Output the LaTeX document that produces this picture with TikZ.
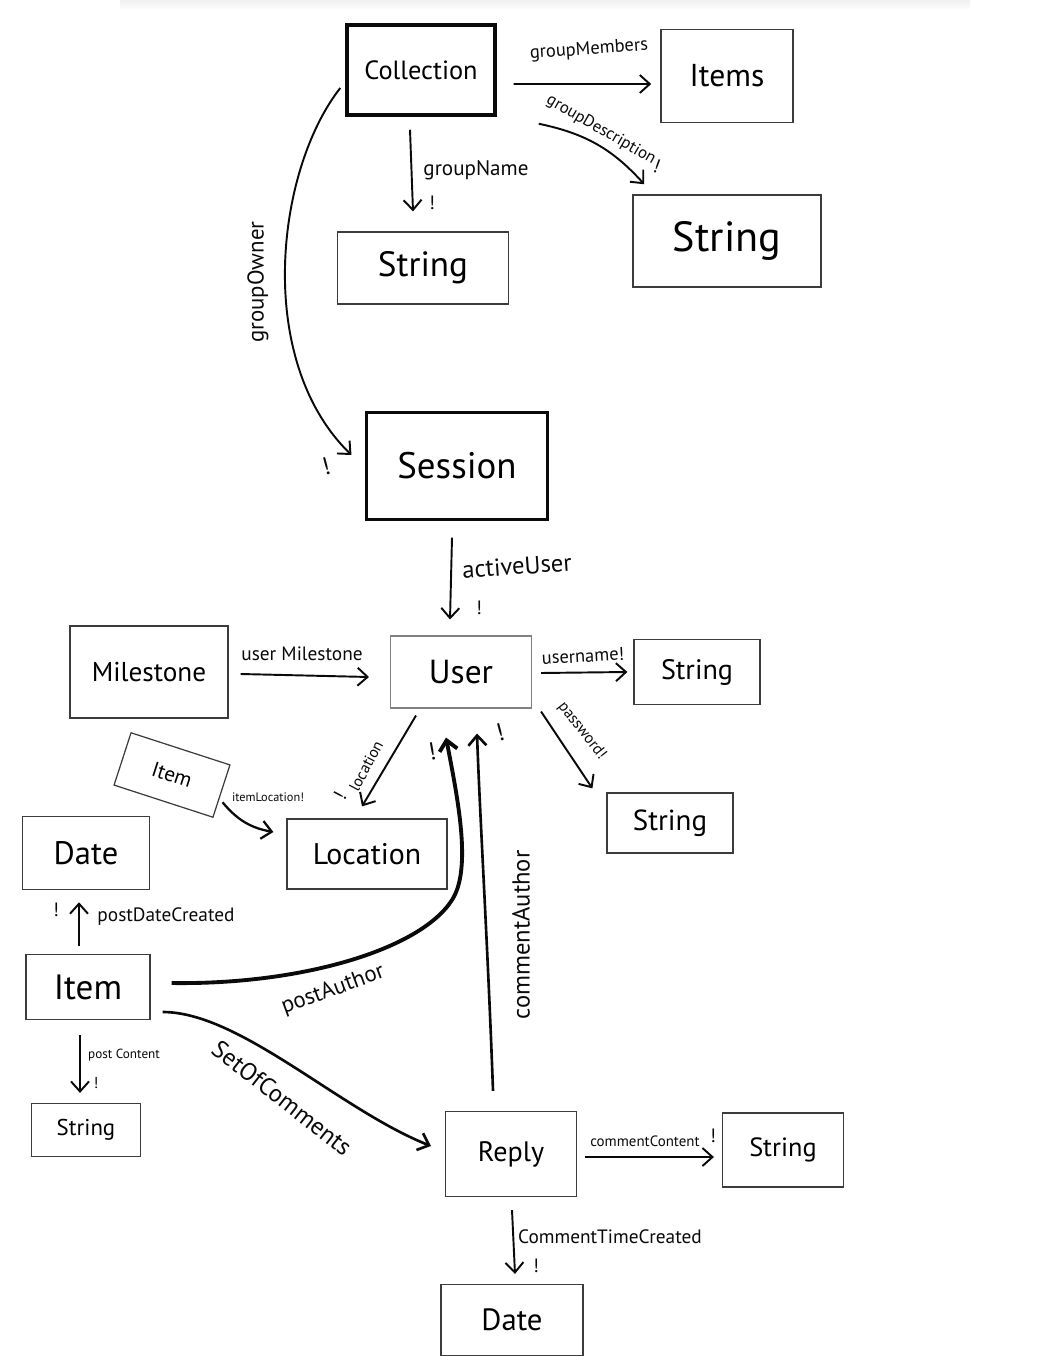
\documentclass[tikz,border=0pt]{standalone}
\usepackage{fontspec}
\setmainfont{PT Sans}
\usepackage{tikz}
\usetikzlibrary{arrows.meta}
\definecolor{penblack}{RGB}{10,10,10}
\definecolor{boxgray}{RGB}{60,60,60}
\newcommand{\fsz}[1]{\fontsize{#1}{#1}\selectfont}

\begin{document}
\begin{tikzpicture}[x=0.02cm, y=-0.02cm,
        box/.style={draw=boxgray, line width=0.7pt, inner sep=0pt, align=center},
        arr/.style={-{Straight Barb[length=2mm,width=3.6mm]}, line width=1.1pt, penblack},
        lbl/.style={inner sep=0pt, text=penblack},
        bang/.style={inner sep=0pt, text=penblack, font=\fsz{11}}]
        \useasboundingbox (0,0) rectangle (1057,1371);
        \shade[top color=black!6, bottom color=white, draw=none] (120,0) rectangle (970,10);

        % schema boxes
        \node[box, draw=penblack, line width=2pt, minimum width=2.96cm, minimum height=1.8cm,
              font=\fsz{15}] (coll) at (421,70) {Collection};
        \node[box, line width=0.9pt, minimum width=2.64cm, minimum height=1.86cm,
              font=\fsz{18}] (items) at (727,76) {Items};
        \node[box, minimum width=3.42cm, minimum height=1.44cm, font=\fsz{20}]
              (strname) at (423,268) {String};
        \node[box, line width=0.9pt, minimum width=3.76cm, minimum height=1.84cm,
              font=\fsz{24}] (strdesc) at (727,241) {String};
        \node[box, draw=penblack, line width=1.2pt, minimum width=3.62cm, minimum height=2.14cm,
              font=\fsz{21}] (session) at (457,466) {Session};
        \node[box, minimum width=3.16cm, minimum height=1.84cm, font=\fsz{15.5}]
              (milestone) at (149,672) {Milestone};
        \node[box, draw=gray, line width=0.6pt, minimum width=2.82cm, minimum height=1.44cm,
              font=\fsz{19}] (user) at (461,672) {User};
        \node[box, minimum width=2.52cm, minimum height=1.3cm, font=\fsz{16}]
              (struser) at (697,672) {String};
        \node[box, minimum width=2.52cm, minimum height=1.2cm, font=\fsz{16.5}]
              (strpass) at (670,823) {String};
        \node[box, minimum width=2.08cm, minimum height=1.1cm, rotate=-18, font=\fsz{12}]
              (itemloc) at (172,775) {Item};
        \node[box, line width=0.9pt, minimum width=2.54cm, minimum height=1.46cm,
              font=\fsz{18.5}] (datepost) at (86,853) {Date};
        \node[box, minimum width=3.2cm, minimum height=1.4cm, font=\fsz{17}]
              (location) at (367,854) {Location};
        \node[box, minimum width=2.48cm, minimum height=1.3cm, font=\fsz{20}]
              (item) at (88,987) {Item};
        \node[box, minimum width=2.18cm, minimum height=1.06cm, font=\fsz{13}]
              (strcontent) at (86,1130) {String};
        \node[box, minimum width=2.62cm, minimum height=1.7cm, font=\fsz{16}]
              (reply) at (511,1154) {Reply};
        \node[box, minimum width=2.42cm, minimum height=1.48cm, font=\fsz{15}]
              (strcomment) at (783,1150) {String};
        \node[box, minimum width=2.84cm, minimum height=1.42cm, font=\fsz{17.5}]
              (datecomment) at (512,1320) {Date};

        % Collection
        \draw[arr] ([xshift=0.34cm,yshift=-0.28cm]coll.east)
            -- ([xshift=-0.18cm,yshift=-0.16cm]items.west);
        \node[lbl, font=\fsz{10.5}, rotate=4] (lmembers) at (589,50) {groupMembers};
        \draw[arr] ([xshift=-0.22cm,yshift=-0.26cm]coll.south)
            -- ([xshift=-0.2cm,yshift=0.4cm]strname.north);
        \node[lbl, font=\fsz{12}] (lname) at (476,170) {groupName};
        \node[bang] (bname) at (432,203) {!};
        \draw[arr] ([xshift=0.84cm,yshift=-0.14cm]coll.south east)
            to[bend left=18] ([xshift=0.24cm,yshift=0.2cm]strdesc.north west);
        \node[lbl, font=\fsz{9.5}, rotate=-30] (ldesc) at (601,130) {groupDescription};
        \node[bang, rotate=-20] (bdesc) at (657,166) {!};
        \draw[arr] ([xshift=-0.1cm,yshift=-0.36cm]coll.west)
            .. controls (276,170) and (254,360) .. ([xshift=-0.28cm,yshift=0.22cm]session.west);
        \node[lbl, font=\fsz{13}, rotate=90] (lowner) at (258,282) {groupOwner};
        \node[bang, font=\fsz{14}, rotate=15] (bowner) at (326,466) {!};

        % Session and User
        \draw[arr] ([xshift=-0.1cm,yshift=-0.34cm]session.south)
            -- ([xshift=-0.22cm,yshift=0.32cm]user.north);
        \node[lbl, font=\fsz{14}, rotate=4] (lactive) at (517,566) {activeUser};
        \node[bang] (bactive) at (479,608) {!};
        \draw[arr] ([xshift=0.24cm,yshift=-0.04cm]milestone.east)
            -- ([xshift=-0.42cm,yshift=-0.1cm]user.west);
        \node[lbl, font=\fsz{11}] (lmilestone) at (302,654) {user Milestone};
        \draw[arr] ([xshift=0.18cm,yshift=-0.02cm]user.east)
            -- ([xshift=-0.12cm]struser.west);
        \node[lbl, font=\fsz{10.5}, rotate=3] (lusername) at (583,656) {username!};
        \draw[arr] ([xshift=0.18cm,yshift=-0.06cm]user.south east)
            -- ([xshift=-0.28cm,yshift=0.08cm]strpass.north west);
        \node[lbl, font=\fsz{9}, rotate=-52] (lpassword) at (582,731) {password!};
        \draw[arr] ([xshift=-0.9cm,yshift=-0.14cm]user.south)
            -- ([xshift=-0.1cm,yshift=0.24cm]location.north);
        \node[lbl, font=\fsz{9}, rotate=62] (llocation) at (366,766) {location};
        \node[bang, rotate=62] (blocation) at (340,796) {!};
        \draw[arr, line width=1.3pt] ([xshift=0.01cm,yshift=-0.22cm]itemloc.east)
            to[bend right=20] ([xshift=-0.26cm,yshift=0.44cm]location.west);
        \node[lbl, font=\fsz{7}] (litemloc) at (268,797) {itemLocation!};

        % Item
        \draw[arr] ([xshift=-0.18cm,yshift=0.16cm]item.north)
            -- ([xshift=-0.14cm,yshift=-0.24cm]datepost.south);
        \node[lbl, font=\fsz{11}] (ldate) at (166,917) {postDateCreated};
        \node[bang] (bdate) at (56,910) {!};
        \draw[arr, line width=2.2pt] ([xshift=0.42cm,yshift=0.08cm]item.east)
            .. controls (300,985) and (420,950) .. (452,900)
            .. controls (472,869) and (458,800) .. ([xshift=-0.3cm,yshift=-0.58cm]user.south);
        \node[lbl, font=\fsz{13}, rotate=20] (lauthor) at (333,990) {postAuthor};
        \node[bang, font=\fsz{14}, rotate=10] (bauthor) at (432,752) {!};
        \draw[arr, line width=1.5pt] ([xshift=0.24cm,yshift=-0.5cm]item.east)
            .. controls (240,1012) and (340,1110) .. ([xshift=-0.28cm,yshift=0.16cm]reply.west);
        \node[lbl, font=\fsz{14}, rotate=-38] (lcomments) at (282,1098) {SetOfComments};
        \draw[arr] ([xshift=-0.16cm,yshift=-0.3cm]item.south)
            -- ([xshift=-0.12cm,yshift=0.2cm]strcontent.north);
        \node[lbl, font=\fsz{7.5}] (lcontent) at (124,1055) {post Content};
        \node[bang, font=\fsz{9}] (bcontent) at (96,1083) {!};

        % Reply
        \draw[arr, line width=1.5pt] ([xshift=-0.36cm,yshift=0.4cm]reply.north)
            .. controls (488,950) and (480,820) .. ([xshift=0.32cm,yshift=-0.5cm]user.south);
        \node[lbl, font=\fsz{14}, rotate=90] (lcauthor) at (521,935) {commentAuthor};
        \node[bang, font=\fsz{14}, rotate=15] (bcauthor) at (500,732) {!};
        \draw[arr] ([xshift=0.16cm,yshift=-0.06cm]reply.east)
            -- ([xshift=-0.16cm,yshift=-0.14cm]strcomment.west);
        \node[lbl, font=\fsz{8.5}] (lccontent) at (645,1141) {commentContent};
        \node[bang] (bccontent) at (713,1136) {!};
        \draw[arr] ([xshift=0.02cm,yshift=-0.26cm]reply.south)
            -- ([xshift=0.06cm,yshift=0.2cm]datecomment.north);
        \node[lbl, font=\fsz{11}] (ltime) at (610,1237) {CommentTimeCreated};
        \node[bang] (btime) at (536,1266) {!};
    \end{tikzpicture}
\end{document}
